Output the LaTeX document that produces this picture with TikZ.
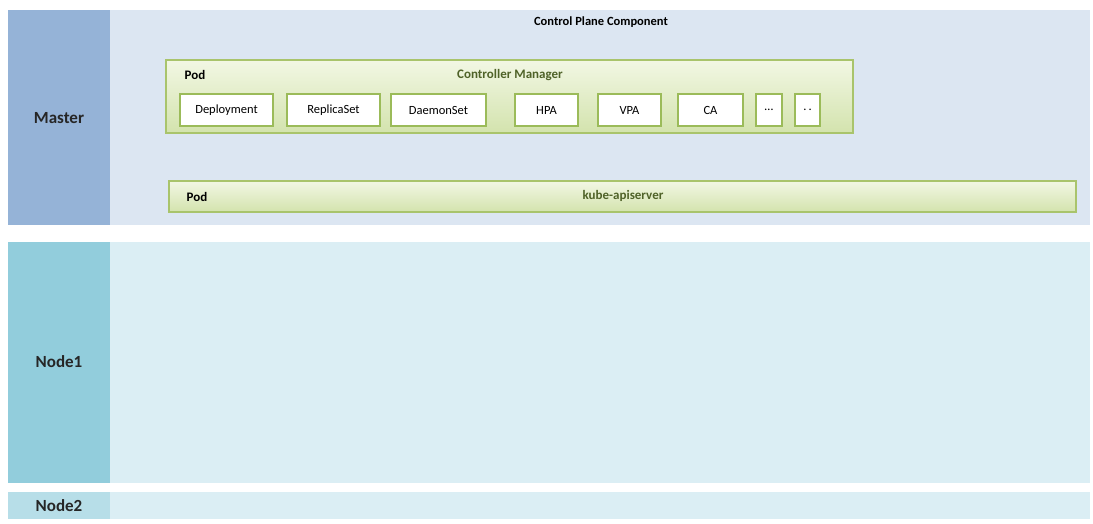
\documentclass[tikz,border=0pt]{standalone}
\usepackage{fontspec}
\setmainfont{Carlito}
\begin{document}
\begin{tikzpicture}[x=1pt,y=-1pt,
  lab/.style={font=\bfseries\fontsize{17}{19}\selectfont, text=black!85},
  pod/.style={draw=podline, line width=1.3pt, top color=podtop, bottom color=podbot},
  item/.style={draw=itemline, line width=1.5pt, fill=white},
  greentext/.style={font=\bfseries\fontsize{13}{15}\selectfont, text=cmtext}]
\definecolor{podline}{HTML}{A9C46C}
\definecolor{itemline}{HTML}{9BBB59}
\definecolor{podtop}{HTML}{F2F7E4}
\definecolor{podbot}{HTML}{D3E3AD}
\definecolor{cmtext}{HTML}{4F6228}
\useasboundingbox (0,0) rectangle (1093,524);
\fill[white] (0,0) rectangle (1093,524);
% Master
\fill[fill={rgb,255:red,149;green,179;blue,215}] (8,10) rectangle (110,225);
\fill[fill={rgb,255:red,220;green,230;blue,242}] (110,10) rectangle (1090,225);
\node[lab] (master) at (59,118) {Master};
\node[font=\bfseries\fontsize{12.5}{14}\selectfont] (cpc) at (601,22) {Control Plane Component};
% Node1
\fill[fill={rgb,255:red,146;green,205;blue,220}] (8,242) rectangle (110,483);
\fill[fill={rgb,255:red,219;green,238;blue,244}] (110,242) rectangle (1090,483);
\node[lab] (node1) at (59,362) {Node1};
% Node2
\fill[fill={rgb,255:red,183;green,222;blue,232}] (8,492) rectangle (110,519);
\fill[fill={rgb,255:red,219;green,238;blue,244}] (110,492) rectangle (1090,519);
\node[lab] (node2) at (59,506) {Node2};
% Controller manager pod
\path[pod] (166,60) rectangle (853,133);
\node[font=\bfseries\fontsize{13}{15}\selectfont] (pod1) at (195,75) {Pod};
\node[greentext] (cm) at (510,75) {Controller Manager};
\foreach \n/\a/\b/\t in {dep/180/273/{Deployment}, rs/287/380/{ReplicaSet}, ds/391/486/{DaemonSet}, hpa/515/578/{HPA}, vpa/598/661/{VPA}, ca/678/743/{CA}, d3/756/782/{\ldots}, d2/795/820/{.\,.}}{
  \path[item] (\a,94) rectangle (\b,126);
  \node[font=\fontsize{12.5}{14}\selectfont] (\n) at ({(\a+\b)/2},110) {\t};
}
% apiserver pod
\path[pod] (169,181) rectangle (1076,212);
\node[font=\bfseries\fontsize{13}{15}\selectfont] (pod2) at (197,197) {Pod};
\node[greentext] (api) at (623,196) {kube-apiserver};
\end{tikzpicture}
\end{document}
